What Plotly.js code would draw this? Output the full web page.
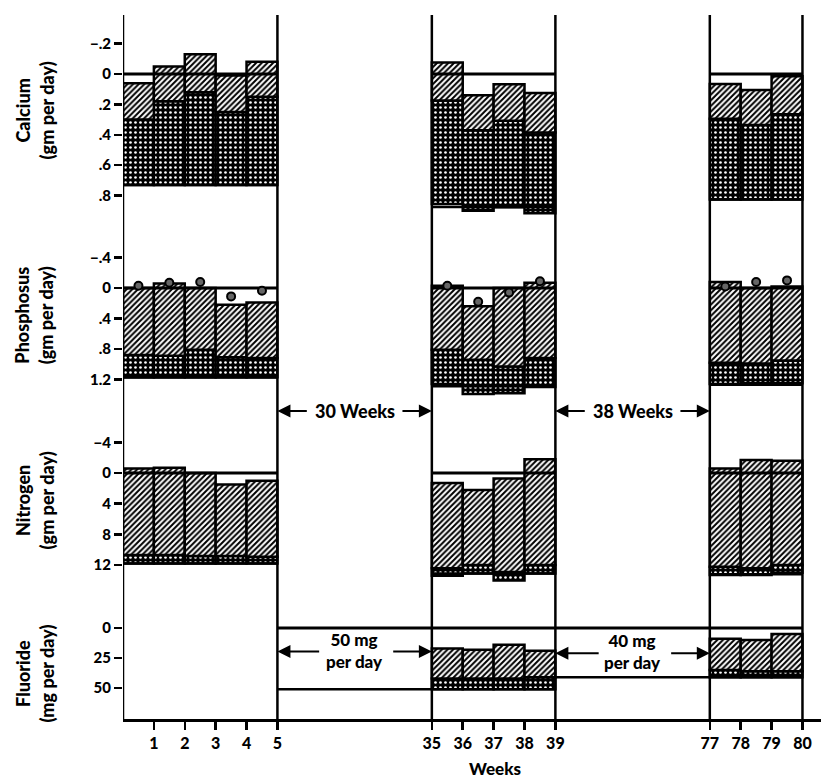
<!DOCTYPE html>
<html><head><meta charset="utf-8">
<script src="https://cdn.plot.ly/plotly-3.0.1.min.js"></script>
<style>html,body{margin:0;padding:0;background:#fff}</style>
</head><body><div id="chart" style="width:825px;height:782px"></div>
<script>
// ---- data ----
const barWeeks = [0,1,2,3,4, 35,36,37,38, 77,78,79];      // week at start of each balance bar
const sectionStarts = [0, 35, 77];
const sectionEnds   = [5, 39, 80];
const tickWeeks  = [1,2,3,4,5, 35,36,37,38,39, 77,78,79,80];
const tickLabels = ['1','2','3','4','5','35','36','37','38','39','77','78','79','80'];

// Calcium (gm per day)
const caIntake = [0.73,0.73,0.73,0.73,0.73, 0.855,0.90,0.877,0.915, 0.825,0.825,0.825];
const caFecal  = [0.43,0.55,0.61,0.48,0.58, 0.68,0.53,0.57,0.53, 0.53,0.49,0.56];
const caUrine  = [0.24,0.23,0.25,0.24,0.23, 0.25,0.23,0.24,0.26, 0.23,0.23,0.25];
const caIntakeLine = [0.73, 0.875, 0.825];

// Phosphorus (gm per day)
const pIntake = [1.17,1.17,1.17,1.17,1.17, 1.26,1.39,1.38,1.30, 1.26,1.25,1.25];
const pFecal  = [0.29,0.28,0.36,0.26,0.25, 0.45,0.45,0.35,0.38, 0.28,0.26,0.30];
const pUrine  = [0.88,0.95,0.81,0.69,0.73, 0.84,0.70,1.03,0.99, 1.06,0.99,0.97];
const pIntakeLine = [1.175, 1.29, 1.27];
const pCircles = [-0.03,-0.07,-0.08,0.11,0.035, -0.03,0.18,0.06,-0.09, -0.02,-0.08,-0.10];

// Nitrogen (gm per day)
const nIntake = [11.8,11.8,11.8,11.8,11.8, 13.4,13.1,14.0,13.1, 13.3,13.3,13.0];
const nFecal  = [1.1,1.1,1.0,1.0,0.9, 1.0,1.1,1.1,1.1, 1.1,0.9,1.0];
const nUrine  = [11.3,11.4,10.8,9.3,9.9, 11.1,9.8,12.2,13.8, 12.8,14.1,13.6];
const nIntakeLine = [11.8, 13.1, 13.2];

// Fluoride (mg per day) - no data in first period
const fIntake = [null,null,null,null,null, 51,51,51,51, 41,41,41];
const fFecal  = [null,null,null,null,null, 9,9,9,10, 6,5,5];
const fUrine  = [null,null,null,null,null, 25,24,28,22, 26,26,31];
const fDoseStart = [5, 39];
const fDoseEnd   = [39, 80];
const fDoseLevel = [51, 41];
const fDoseText  = ['50 mg<br>per day', '40 mg<br>per day'];

// ---- helpers ----
// broken time axis: the 30-week and 38-week gaps are each drawn as 5 units
function pos(w){ if (w <= 5) return w; if (w <= 39) return w - 25; return w - 58; }
const centers = barWeeks.map(w => pos(w) + 0.5);

const FONT = 'Lato, "Open Sans", sans-serif';
const hatch = {shape:'/', fgcolor:'#000', bgcolor:'#fff', size:4, solidity:0.5, fillmode:'replace'};
const stipple = {shape:'.', fgcolor:'#fff', bgcolor:'#000', size:5, solidity:0.22, fillmode:'replace'};

const traces = [];
function addBars(yaxis, intake, fecal, urine){
  const idx = intake.map((v,i)=> v===null ? -1 : i).filter(i=>i>=0);
  traces.push({type:'bar', xaxis:'x', yaxis:yaxis, x: idx.map(i=>centers[i]),
    base: idx.map(i=>intake[i]), y: idx.map(i=>-fecal[i]), width: idx.map(()=>1),
    marker:{color:'#000', pattern:stipple, line:{color:'#000', width:2.5}},
    showlegend:false, hoverinfo:'skip'});
  traces.push({type:'bar', xaxis:'x', yaxis:yaxis, x: idx.map(i=>centers[i]),
    base: idx.map(i=>intake[i]-fecal[i]), y: idx.map(i=>-urine[i]), width: idx.map(()=>1),
    marker:{color:'#fff', pattern:hatch, line:{color:'#000', width:2.5}},
    showlegend:false, hoverinfo:'skip'});
}
function addSectionLines(yaxis, intakeLine){
  const xs=[], zy=[], iy=[];
  sectionStarts.forEach((s,k)=>{
    xs.push(pos(s), pos(sectionEnds[k]), null);
    zy.push(0,0,null);
    iy.push(intakeLine[k], intakeLine[k], null);
  });
  traces.push({type:'scatter', mode:'lines', xaxis:'x', yaxis:yaxis, x:xs, y:zy,
    line:{color:'#000', width:3}, showlegend:false, hoverinfo:'skip'});
  traces.push({type:'scatter', mode:'lines', xaxis:'x', yaxis:yaxis, x:xs, y:iy,
    line:{color:'#000', width:2.5}, showlegend:false, hoverinfo:'skip'});
}

addBars('y', caIntake, caFecal, caUrine);
addBars('y2', pIntake, pFecal, pUrine);
addBars('y3', nIntake, nFecal, nUrine);
addBars('y4', fIntake, fFecal, fUrine);
addSectionLines('y', caIntakeLine);
addSectionLines('y2', pIntakeLine);
addSectionLines('y3', nIntakeLine);

// fluoride zero line and dose lines
traces.push({type:'scatter', mode:'lines', xaxis:'x', yaxis:'y4',
  x:[pos(fDoseStart[0]), pos(fDoseEnd[fDoseEnd.length-1])], y:[0,0],
  line:{color:'#000', width:3}, showlegend:false, hoverinfo:'skip'});
const fdx=[], fdy=[];
fDoseStart.forEach((s,k)=>{ fdx.push(pos(s), pos(fDoseEnd[k]), null); fdy.push(fDoseLevel[k], fDoseLevel[k], null); });
traces.push({type:'scatter', mode:'lines', xaxis:'x', yaxis:'y4', x:fdx, y:fdy,
  line:{color:'#000', width:2.5}, showlegend:false, hoverinfo:'skip'});

// phosphorus circles
traces.push({type:'scatter', mode:'markers', xaxis:'x', yaxis:'y2', x:centers, y:pCircles,
  marker:{symbol:'circle', size:8, color:'#666', line:{color:'#000', width:2}},
  showlegend:false, hoverinfo:'skip'});

// ---- layout ----
const tf = {family:FONT, size:15, color:'#000', weight:900};
function yax(domain, range, vals, texts){
  return {domain:domain, range:range, anchor:'x', tickvals:vals, ticktext:texts,
    ticks:'outside', ticklen:8, tickwidth:2.5, tickcolor:'#000', showline:false,
    showgrid:false, zeroline:false, tickfont:tf, fixedrange:true};
}
const vlines = [0,5,35,39,77,80].map(w=>({type:'line', xref:'x', yref:'paper',
  x0:pos(w), x1:pos(w), y0:0, y1:1, line:{color:'#000', width:2.5}}));

const annFont = {family:FONT, size:17, color:'#000', weight:900};
const ann = [];
function ytitle(text, y){
  ann.push({xref:'paper', yref:'paper', x:-0.127, y:y, text:text, textangle:-90,
    showarrow:false, font:{...annFont, size:18}, xanchor:'center', yanchor:'middle'});
}
ytitle('Calcium<br>(gm per day)', 0.865);
ytitle('Phosphosus<br>(gm per day)', 0.574);
ytitle('Nitrogen<br>(gm per day)', 0.311);
ytitle('Fluoride<br>(mg per day)', 0.065);
ann.push({xref:'paper', yref:'paper', x:0.533, y:-0.071, text:'Weeks', showarrow:false,
  font:annFont, xanchor:'center', yanchor:'middle'});

function arrow(xref, yref, yv, tail, head){
  ann.push({xref:xref, yref:yref, x:head, y:yv, axref:'x', ayref:'pixel', ax:tail, ay:0,
    text:'', showarrow:true, arrowhead:2, arrowsize:1.3, arrowwidth:2, arrowcolor:'#000', standoff:0});
}
// gap labels
const gapY = 0.4375;
ann.push({xref:'x', yref:'paper', x:(pos(5)+pos(35))/2, y:gapY, text:'30 Weeks', showarrow:false, font:{...annFont, size:18}});
arrow('x','paper',gapY, 6.0, pos(5)); arrow('x','paper',gapY, 9.0, pos(35));
ann.push({xref:'x', yref:'paper', x:(pos(39)+pos(77))/2, y:gapY, text:'38 Weeks', showarrow:false, font:{...annFont, size:18}});
arrow('x','paper',gapY, 15.0, pos(39)); arrow('x','paper',gapY, 18.0, pos(77));
// dose labels
ann.push({xref:'x', yref:'y4', x:(pos(5)+pos(35))/2, y:18.5, text:fDoseText[0], showarrow:false, font:annFont});
arrow('x','y4',19.5, 6.4, pos(5)); arrow('x','y4',19.5, 8.7, pos(35));
ann.push({xref:'x', yref:'y4', x:(pos(39)+pos(77))/2, y:19.5, text:fDoseText[1], showarrow:false, font:annFont});
arrow('x','y4',21, 15.45, pos(39)); arrow('x','y4',21, 17.7, pos(77));

const layout = {
  width:825, height:782, margin:{l:123, r:4, t:15, b:63},
  paper_bgcolor:'#fff', plot_bgcolor:'#fff', barmode:'overlay', showlegend:false,
  font:{family:FONT, color:'#000'},
  xaxis:{range:[0,22.6], anchor:'y4', tickvals:tickWeeks.map(pos), ticktext:tickLabels,
    ticks:'outside', ticklen:8, tickwidth:2.5, tickcolor:'#000', showline:true, linewidth:2.5,
    linecolor:'#000', showgrid:false, zeroline:false, tickfont:{...tf, size:16}, fixedrange:true},
  yaxis:  yax([0.7017,1], [0.993,-0.388], [-0.2,0,0.2,0.4,0.6,0.8], ['\u2212.2','0','.2','.4','.6','.8']),
  yaxis2: yax([0.4389,0.7017], [1.601,-0.827], [-0.4,0,0.4,0.8,1.2], ['\u2212.4','0','.4','.8','1.2']),
  yaxis3: yax([0.1761,0.4389], [15.9,-8.21], [-4,0,4,8,12], ['\u22124','0','4','8','12']),
  yaxis4: yax([0,0.1761], [75.8,-27.5], [0,25,50], ['0','25','50']),
  shapes: vlines, annotations: ann
};
Plotly.newPlot('chart', traces, layout, {staticPlot:true, displayModeBar:false});
</script></body></html>
